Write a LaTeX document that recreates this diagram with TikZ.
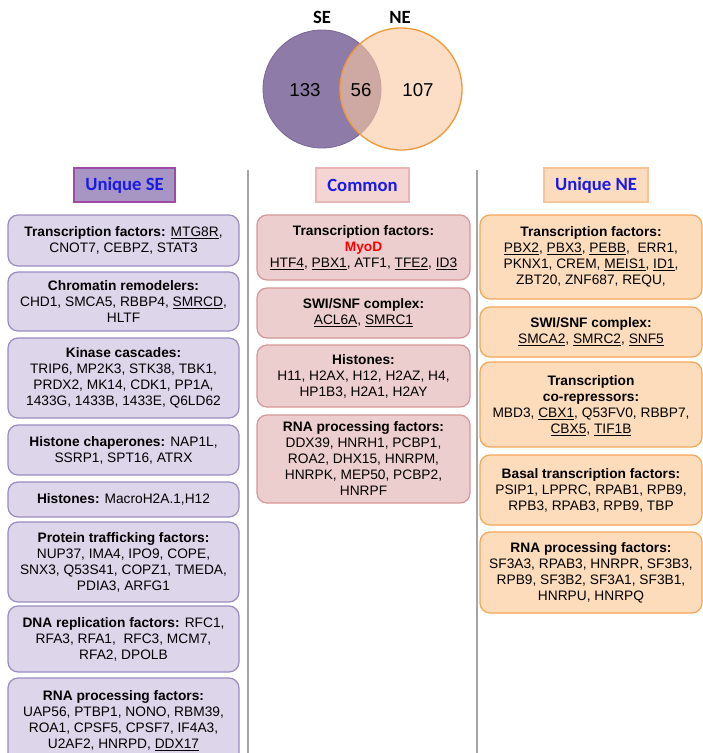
\documentclass[tikz,border=0pt]{standalone}
\usepackage{fontspec}
\setmainfont{Liberation Sans}
\newfontfamily\hdfont{Carlito}
\definecolor{seFill}{RGB}{142,123,168}
\definecolor{seLine}{RGB}{120,102,148}
\definecolor{neFill}{RGB}{250,200,160}
\definecolor{neLine}{RGB}{238,154,58}
\definecolor{seBox}{RGB}{221,213,234}
\definecolor{seBoxLine}{RGB}{155,140,190}
\definecolor{cmBox}{RGB}{237,206,206}
\definecolor{cmBoxLine}{RGB}{214,150,150}
\definecolor{neBox}{RGB}{253,220,188}
\definecolor{neBoxLine}{RGB}{244,166,88}
\definecolor{seHead}{RGB}{167,150,196}
\definecolor{seHeadLine}{RGB}{160,74,168}
\definecolor{cmHead}{RGB}{245,212,212}
\definecolor{cmHeadLine}{RGB}{232,180,180}
\definecolor{neHead}{RGB}{252,220,190}
\definecolor{neHeadLine}{RGB}{246,196,150}
\definecolor{headBlue}{RGB}{26,26,230}
\definecolor{sepGray}{RGB}{165,165,165}

\begin{document}
\begin{tikzpicture}[x=0.75pt,y=0.75pt,yscale=-1,xscale=1,
  sebox/.style={draw=seBoxLine,fill=seBox,line width=0.9pt,rounded corners=7.5pt},
  cmbox/.style={draw=cmBoxLine,fill=cmBox,line width=0.9pt,rounded corners=7.5pt},
  nebox/.style={draw=neBoxLine,fill=neBox,line width=0.9pt,rounded corners=7.5pt},
  txt/.style={align=center,inner sep=0.75pt,font=\fontsize{10.3}{12}\selectfont},
  headtxt/.style={inner sep=0.75pt,text=headBlue,font=\hdfont\bfseries\fontsize{14}{16}\selectfont},
  numtxt/.style={inner sep=0.75pt,font=\fontsize{14}{16}\selectfont}]
\useasboundingbox (0,0) rectangle (703,753);
\clip (0,0) rectangle (703,753);

%Shape: Circle [id:se]
\draw [draw=seLine,fill=seFill,line width=0.6pt] (322,89) circle (59);
%Shape: Circle [id:ne]
\draw [draw=neLine,fill=neFill,fill opacity=0.6,line width=1pt] (401,89) circle (61);

% Text Node
\draw (322,17) node [inner sep=0.75pt,font=\hdfont\bfseries\fontsize{14}{16}\selectfont] (seLabel) {SE};
% Text Node
\draw (400,17) node [inner sep=0.75pt,font=\hdfont\bfseries\fontsize{14}{16}\selectfont] (neLabel) {NE};
% Text Node
\draw (305,90) node [numtxt] (seCount) {133};
% Text Node
\draw (361,90) node [numtxt] (bothCount) {56};
% Text Node
\draw (418,90) node [numtxt] (neCount) {107};

%Straight Lines [id:sep1]
\draw [color=sepGray,line width=0.8pt] (248,170) -- (248,760);
%Straight Lines [id:sep2]
\draw [color=sepGray,line width=0.8pt] (477,170) -- (477,760);

%Shape: Rectangle [id:seHead]
\draw [draw=seHeadLine,fill=seHead,line width=0.9pt] (74,168) rectangle (175,202);
%Shape: Rectangle [id:cmHead]
\draw [draw=cmHeadLine,fill=cmHead,line width=0.9pt] (316,168) rectangle (409,202);
%Shape: Rectangle [id:neHead]
\draw [draw=neHeadLine,fill=neHead,line width=0.9pt] (544,168) rectangle (648,202);

% Text Node
\draw (124.5,185) node [headtxt] (seTitle) {Unique SE};
% Text Node
\draw (362.5,185) node [headtxt] (cmTitle) {Common};
% Text Node
\draw (596,185) node [headtxt] (neTitle) {Unique NE};

%Shape: Rounded Rect [id:se1]
\draw [sebox] (8,215) rectangle (239,266);
\draw [sebox] (8,272) rectangle (239,331);
\draw [sebox] (8,338) rectangle (239,418);
\draw [sebox] (8,425) rectangle (239,475);
\draw [sebox] (8,482) rectangle (239,517);
\draw [sebox] (8,522) rectangle (239,602);
\draw [sebox] (8,606) rectangle (239,672);
\draw [sebox] (8,678) rectangle (239,764);

%Shape: Rounded Rect [id:cm1]
\draw [cmbox] (257,215) rectangle (470,280);
\draw [cmbox] (257,288) rectangle (470,338);
\draw [cmbox] (257,345) rectangle (470,407);
\draw [cmbox] (257,415) rectangle (470,503);

%Shape: Rounded Rect [id:ne1]
\draw [nebox] (480,215) rectangle (702,299);
\draw [nebox] (480,307) rectangle (702,357);
\draw [nebox] (480,362) rectangle (702,447);
\draw [nebox] (480,455) rectangle (702,525);
\draw [nebox] (480,532) rectangle (702,613);

% Text Node
\draw (123.5,240.5) node [txt] (seTF) {\textbf{Transcription factors:} \underline{MTG8R},\\CNOT7, CEBPZ, STAT3};
% Text Node
\draw (123.5,301.5) node [txt] (seChrom) {\textbf{Chromatin remodelers:}\\CHD1, SMCA5, RBBP4, \underline{SMRCD},\\HLTF};
% Text Node
\draw (123.5,378) node [txt] (seKin) {\textbf{Kinase cascades:}\\TRIP6, MP2K3, STK38, TBK1,\\PRDX2, MK14, CDK1, PP1A,\\1433G, 1433B, 1433E, Q6LD62};
% Text Node
\draw (123.5,450) node [txt] (seChap) {\textbf{Histone chaperones:} NAP1L,\\SSRP1, SPT16, ATRX};
% Text Node
\draw (123.5,499.5) node [txt] (seHist) {\textbf{Histones:} MacroH2A.1,H12};
% Text Node
\draw (123.5,562) node [txt] (seProt) {\textbf{Protein trafficking factors:}\\NUP37, IMA4, IPO9, COPE,\\SNX3, Q53S41, COPZ1, TMEDA,\\PDIA3, ARFG1};
% Text Node
\draw (123.5,639) node [txt] (seDNA) {\textbf{DNA replication factors:} RFC1,\\RFA3, RFA1,\ \ RFC3, MCM7,\\RFA2, DPOLB};
% Text Node
\draw (123.5,721) node [txt] (seRNA) {\textbf{RNA processing factors:}\\UAP56, PTBP1, NONO, RBM39,\\ROA1, CPSF5, CPSF7, IF4A3,\\U2AF2, HNRPD, \underline{DDX17}};

% Text Node
\draw (363.5,247.5) node [txt] (cmTF) {\textbf{Transcription factors:}\\\textcolor{red}{\textbf{MyoD}}\\\underline{HTF4}, \underline{PBX1}, ATF1, \underline{TFE2}, \underline{ID3}};
% Text Node
\draw (363.5,313) node [txt] (cmSwi) {\textbf{SWI/SNF complex:}\\\underline{ACL6A}, \underline{SMRC1}};
% Text Node
\draw (363.5,376) node [txt] (cmHist) {\textbf{Histones:}\\H11, H2AX, H12, H2AZ, H4,\\HP1B3, H2A1, H2AY};
% Text Node
\draw (363.5,459) node [txt] (cmRNA) {\textbf{RNA processing factors:}\\DDX39, HNRH1, PCBP1,\\ROA2, DHX15, HNRPM,\\HNRPK, MEP50, PCBP2,\\HNRPF};

% Text Node
\draw (591,257) node [txt] (neTF) {\textbf{Transcription factors:}\\\underline{PBX2}, \underline{PBX3}, \underline{PEBB},\ \ ERR1,\\PKNX1, CREM, \underline{MEIS1}, \underline{ID1},\\ZBT20, ZNF687, REQU,};
% Text Node
\draw (591,332) node [txt] (neSwi) {\textbf{SWI/SNF complex:}\\\underline{SMCA2}, \underline{SMRC2}, \underline{SNF5}};
% Text Node
\draw (591,406) node [txt] (neCorep) {\textbf{Transcription}\\\textbf{co-repressors:}\\MBD3, \underline{CBX1}, Q53FV0, RBBP7,\\\underline{CBX5}, \underline{TIF1B}};
% Text Node
\draw (591,490) node [txt] (neBasal) {\textbf{Basal transcription factors:}\\PSIP1, LPPRC, RPAB1, RPB9,\\RPB3, RPAB3, RPB9, TBP};
% Text Node
\draw (591,572.5) node [txt] (neRNA) {\textbf{RNA processing factors:}\\SF3A3, RPAB3, HNRPR, SF3B3,\\RPB9, SF3B2, SF3A1, SF3B1,\\HNRPU, HNRPQ};

\end{tikzpicture}
\end{document}
